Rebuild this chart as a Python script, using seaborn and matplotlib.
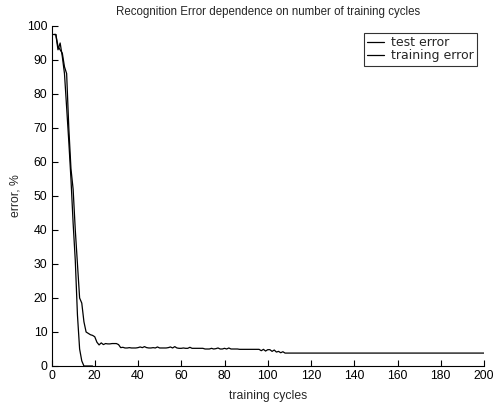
import matplotlib
matplotlib.use("Agg")
import matplotlib.pyplot as plt
import seaborn as sns
import pandas as pd

# ---- data ----
test_epochs = list(range(1, 109)) + [200]
test_error = [
    97.5, 97.5, 94.0, 93.0, 92.0, 88.0, 86.0, 70.0, 58.0, 52.0,
    40.0, 30.0, 20.0, 18.5, 13.0, 10.0, 9.6, 9.2, 9.0, 8.6,
    7.0, 6.2, 6.8, 6.3, 6.6, 6.5, 6.5, 6.6, 6.6, 6.6,
    6.3, 5.4, 5.5, 5.3, 5.3, 5.4, 5.3, 5.3, 5.3, 5.4,
    5.6, 5.4, 5.7, 5.4, 5.3, 5.3, 5.4, 5.3, 5.6, 5.3,
    5.3, 5.3, 5.3, 5.4, 5.6, 5.3, 5.7, 5.3, 5.2, 5.2,
    5.3, 5.2, 5.2, 5.5, 5.2, 5.2, 5.2, 5.2, 5.2, 5.2,
    5.0, 5.0, 5.0, 5.2, 5.0, 5.1, 5.3, 5.0, 5.0, 5.2,
    5.0, 5.3, 5.0, 5.0, 5.0, 5.0, 4.9, 4.9, 4.9, 4.9,
    4.9, 4.9, 4.9, 4.9, 4.9, 4.9, 4.5, 4.9, 4.4, 4.8,
    4.8, 4.3, 4.7, 4.1, 4.3, 3.9, 4.2, 3.8, 3.8,
]
train_epochs = list(range(1, 20))
train_error = [
    97.5, 97.5, 93.0, 95.0, 91.0, 86.0, 76.0, 66.0, 55.0, 42.0,
    31.0, 15.0, 5.0, 1.5, 0.0, 0.0, 0.0, 0.0, 0.0,
]
series_labels = ["test error", "training error"]
x_ticks = list(range(0, 201, 20))
y_ticks = list(range(0, 101, 10))
title = "Recognition Error dependence on number of training cycles"
x_label = "training cycles"
y_label = "error, %"

sns.set_style("ticks")
plt.rcParams["font.family"] = ["Liberation Sans", "DejaVu Sans"]

fig = plt.figure(figsize=(4.93, 4.05), dpi=100)
ax = fig.add_axes([51.5 / 493, 1 - 366 / 405, (484 - 51.5) / 493, (366 - 26) / 405])

df_test = pd.DataFrame({"x": test_epochs, "y": test_error})
df_train = pd.DataFrame({"x": train_epochs, "y": train_error})
sns.lineplot(data=df_test, x="x", y="y", color="black", linewidth=0.9,
             label=series_labels[0], ax=ax)
sns.lineplot(data=df_train, x="x", y="y", color="black", linewidth=0.9,
             label=series_labels[1], ax=ax)

ax.set_xlim(0, 200)
ax.set_ylim(0, 100)
ax.set_xticks(x_ticks)
ax.set_yticks(y_ticks)
ax.tick_params(direction="in", length=4, width=0.8, colors="black",
               labelsize=8.8, pad=3)
for s in ["top", "right"]:
    ax.spines[s].set_visible(False)
for s in ["left", "bottom"]:
    ax.spines[s].set_color("black")
    ax.spines[s].set_linewidth(0.8)

ax.set_title(title, fontsize=8.3, pad=8)
ax.set_xlabel(x_label, fontsize=8.8, labelpad=6)
ax.set_ylabel(y_label, fontsize=8.8, labelpad=4)

leg = ax.legend(loc="upper right",
                bbox_to_anchor=((477 - 51.5) / 432.5, (366 - 33.3) / 340),
                borderaxespad=0, frameon=True, fancybox=False,
                prop={"family": "DejaVu Sans", "size": 9},
                handlelength=1.4, handletextpad=0.55, labelspacing=0.0,
                borderpad=0.25)
leg.get_frame().set_edgecolor("black")
leg.get_frame().set_linewidth(0.8)

fig.savefig("out.png", dpi=100, facecolor="white")
